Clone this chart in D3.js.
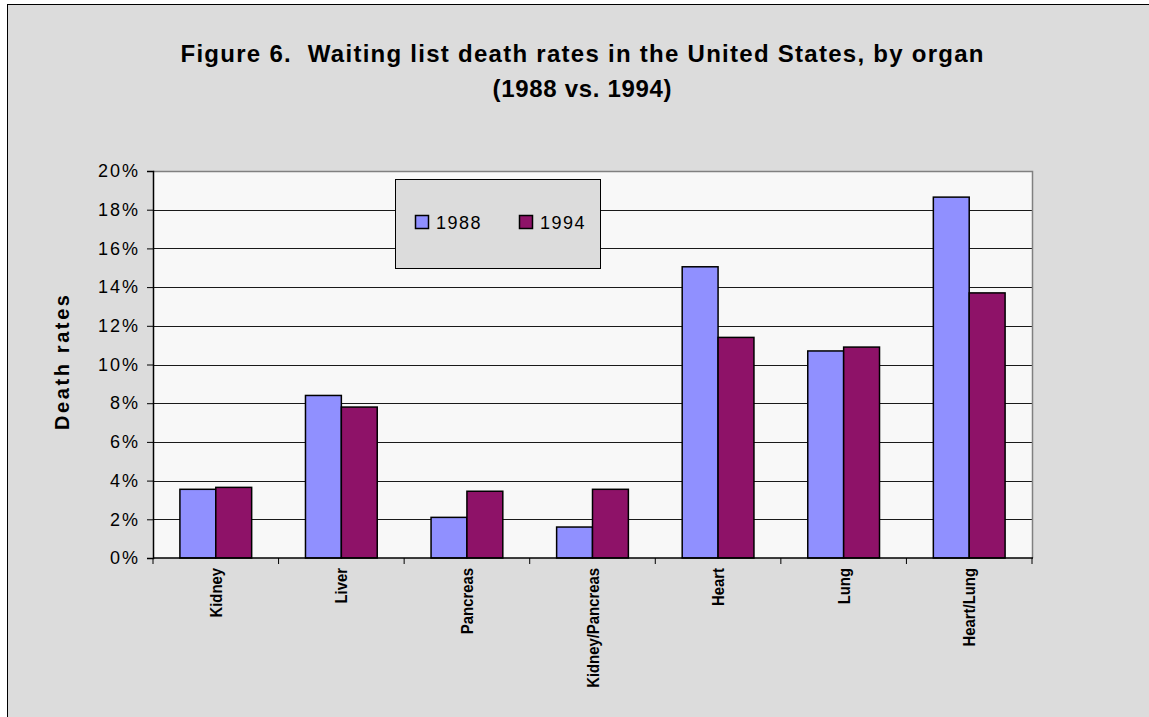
<!DOCTYPE html>
<html>
<head>
<meta charset="utf-8">
<script src="https://cdn.jsdelivr.net/npm/d3@7"></script>
<style>
  html, body { margin: 0; padding: 0; background: #ffffff; }
  svg { display: block; }
  text { font-family: "Liberation Sans", Arial, sans-serif; white-space: pre; }
</style>
</head>
<body>
<svg id="chart" width="1149" height="717"></svg>
<script>
// Organ categories and waiting-list death rates (percent)
const organs = ["Kidney", "Liver", "Pancreas", "Kidney/Pancreas", "Heart", "Lung", "Heart/Lung"];
const years = ["1988", "1994"];
const rate1988 = [3.55, 8.4, 2.1, 1.6, 15.05, 10.7, 18.65];
const rate1994 = [3.65, 7.8, 3.45, 3.55, 11.4, 10.9, 13.7];
const yTicks = [0, 2, 4, 6, 8, 10, 12, 14, 16, 18, 20];
const titleLines = ["Figure 6.  Waiting list death rates in the United States, by organ", "(1988 vs. 1994)"];
const yTitle = "Death rates";

const colors = { "1988": "#9090ff", "1994": "#8e1268" };

const svg = d3.select("#chart");
const W = 1149, H = 717;

// Outer chart frame
svg.append("rect")
  .attr("x", 7.5).attr("y", 4.5)
  .attr("width", W + 10).attr("height", H + 10)
  .attr("fill", "#dcdcdc").attr("stroke", "#000").attr("stroke-width", 1);

const plot = { left: 153, top: 171, right: 1032, bottom: 558 };

const x = d3.scaleBand().domain(organs).range([plot.left, plot.right]).paddingInner(0).paddingOuter(0);
// Two bars per group, with a gap of 1.5 bar widths between groups
const edge = x.bandwidth() * 0.75 / 3.5;
const x1 = d3.scaleBand().domain(years).range([edge, x.bandwidth() - edge]).padding(0);

const y = d3.scaleLinear().domain([0, 20]).range([plot.bottom, plot.top]);

// Plot area
svg.append("rect")
  .attr("x", plot.left).attr("y", plot.top)
  .attr("width", plot.right - plot.left).attr("height", plot.bottom - plot.top)
  .attr("fill", "#f8f8f8");

// Horizontal gridlines
svg.append("g").selectAll("line")
  .data(yTicks.filter(t => t > 0 && t < 20))
  .join("line")
  .attr("x1", plot.left).attr("x2", plot.right)
  .attr("y1", d => Math.round(y(d)) + 0.5).attr("y2", d => Math.round(y(d)) + 0.5)
  .attr("stroke", "#1a1a1a").attr("stroke-width", 1);

// Plot area top and right border
svg.append("path")
  .attr("d", `M${plot.left},${plot.top + 0.5}H${plot.right + 0.5}V${plot.bottom}`)
  .attr("fill", "none").attr("stroke", "#808080").attr("stroke-width", 1.5);

// Bars
const series = years.map((yr, i) => ({ year: yr, values: i === 0 ? rate1988 : rate1994 }));
const gBars = svg.append("g");
series.forEach(s => {
  gBars.append("g").selectAll("rect")
    .data(s.values.map((v, i) => ({ organ: organs[i], v })))
    .join("rect")
    .attr("x", d => x(d.organ) + x1(s.year))
    .attr("y", d => y(d.v))
    .attr("width", x1.bandwidth())
    .attr("height", d => plot.bottom - y(d.v))
    .attr("fill", colors[s.year])
    .attr("stroke", "#000").attr("stroke-width", 1.5);
});

// Y axis
const yAxis = d3.axisLeft(y).tickValues(yTicks).tickFormat(d => d + "%").tickSize(6).tickPadding(9);
const gy = svg.append("g").attr("transform", `translate(${plot.left},0)`).call(yAxis);
gy.select(".domain").attr("stroke", "#000").attr("stroke-width", 1.5);
gy.selectAll(".tick line").attr("stroke", "#000");
gy.selectAll(".tick text").attr("font-size", 18).attr("fill", "#000")
  .attr("letter-spacing", "2px").attr("dx", "2px")
  .attr("font-family", "'Liberation Sans', Arial, sans-serif");

// X axis (ticks at category boundaries)
const gx = svg.append("g").attr("transform", `translate(0,${plot.bottom})`);
gx.append("line").attr("x1", plot.left).attr("x2", plot.right + 1)
  .attr("stroke", "#000").attr("stroke-width", 1.5);
gx.selectAll("line.tk")
  .data(organs.map(o => x(o)).concat([plot.right]))
  .join("line").attr("class", "tk")
  .attr("x1", d => d).attr("x2", d => d).attr("y1", 0).attr("y2", 6)
  .attr("stroke", "#000").attr("stroke-width", 1);

// Category labels, rotated
gx.selectAll("text.cat")
  .data(organs)
  .join("text").attr("class", "cat")
  .attr("transform", d => `translate(${x(d) + x.bandwidth() / 2 + 6},10) rotate(-90) scale(0.93,1)`)
  .attr("text-anchor", "end")
  .attr("font-size", 16).attr("font-weight", "bold").attr("fill", "#000")
  .text(d => d);

// Y axis title
svg.append("text")
  .attr("transform", `translate(69,${(plot.top + plot.bottom) / 2 - 2}) rotate(-90)`)
  .attr("text-anchor", "middle")
  .attr("font-size", 20).attr("font-weight", "bold")
  .attr("textLength", 135).attr("lengthAdjust", "spacing")
  .text(yTitle);

// Chart title
const titleWidths = [803, 179];
svg.append("g").selectAll("text")
  .data(titleLines)
  .join("text")
  .attr("x", 582).attr("y", (d, i) => 62 + i * 35)
  .attr("text-anchor", "middle")
  .attr("font-size", 24).attr("font-weight", "bold")
  .attr("textLength", (d, i) => titleWidths[i]).attr("lengthAdjust", "spacing")
  .text(d => d);

// Legend
const lg = svg.append("g");
lg.append("rect").attr("x", 395.5).attr("y", 179.5).attr("width", 205).attr("height", 89)
  .attr("fill", "#dcdcdc").attr("stroke", "#000").attr("stroke-width", 1);
const legendX = [415, 519];
years.forEach((yr, i) => {
  lg.append("rect").attr("x", legendX[i] + 0.5).attr("y", 215.5).attr("width", 13).attr("height", 13)
    .attr("fill", colors[yr]).attr("stroke", "#000").attr("stroke-width", 1.5);
  lg.append("text").attr("x", legendX[i] + 21).attr("y", 229)
    .attr("font-size", 18).attr("letter-spacing", "1.5px").text(yr);
});
</script>
</body>
</html>
